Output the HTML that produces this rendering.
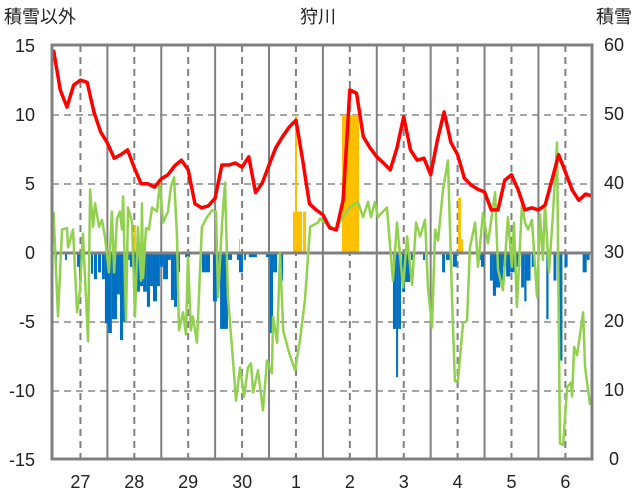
<!DOCTYPE html>
<html><head><meta charset="utf-8"><style>
html,body{margin:0;padding:0;background:#fff;}
svg{display:block;font-family:"Liberation Sans","Noto Sans CJK JP",sans-serif;}
</style></head><body>
<svg id="chart" width="636" height="501" viewBox="0 0 636 501"></svg>
<script>
const dayLabels = ["27","28","29","30","1","2","3","4","5","6"];
const leftTicks = [15,10,5,0,-5,-10,-15];
const rightTicks = [60,50,40,30,20,10,0];
// snow depth (right axis), every 3 hours
const snowDepth = [59.3,53.5,51.0,54.2,54.9,54.6,50.3,47.4,45.8,43.6,44.1,44.8,42.2,39.9,39.9,39.4,40.6,41.2,42.5,43.3,41.9,37.0,36.4,36.7,37.8,42.6,42.6,42.9,42.3,43.8,38.6,40.0,42.6,45.1,46.7,48.1,49.1,43.3,37.0,36.1,35.4,33.5,33.2,37.5,53.5,53.0,46.7,45.1,43.8,42.9,41.9,45.1,49.6,44.8,43.3,43.6,41.2,46.2,50.3,45.9,44.1,40.7,39.7,39.1,38.7,36.1,36.1,40.4,41.2,39.0,36.1,36.4,36.1,36.8,40.4,44.1,41.6,39.0,37.5,38.4,38.1];
// temperature (left axis)
const tempHours = [0,2,3.8,6,6.5,8.7,10.5,11.8,13.1,15.4,16.3,17.6,18.5,20.3,21.6,22.9,24.7,26,27,28.3,29.6,30.5,31,32.3,33.2,35,36.3,37.6,39,39.4,39.9,41.2,42.5,43.9,46.1,47.4,48.8,51,52.3,53.7,55,55.9,57.7,59,59.9,61.2,62.1,63.9,66.1,68.4,70.6,72.4,73.3,75.1,76.4,77.7,79.5,81.3,83.1,84.9,86.6,88,88.9,91.1,93.3,95.1,97.3,97.8,99.6,100.9,102.3,104.9,107.6,109.8,112,114.3,117.8,118.7,120.9,125.4,128.9,132,135.6,137.9,140.1,141.4,143.2,144.5,148.5,151.2,153,155.7,157.5,159.7,161.5,163.3,165.5,166.8,168.6,170,171.3,173.5,175.7,177.5,178.8,180.2,182.4,184.2,185.5,187.8,189.1,191.3,193.5,196.7,198,200.2,202.4,204.2,205.1,206.4,208.7,210,211.4,213.1,215.4,216.7,218,218.9,220.7,222.5,224.3,225.6,227,228.8,230.5,231,231.9,233.2,234.1,235.9,236.8,239];
const tempVals = [3.0,-4.6,1.7,1.8,0.4,1.7,-4.3,-2.7,1.4,-6.4,4.6,1.9,3.6,1.9,2.4,1.2,-1.4,3.0,-1.4,2.5,3.0,1.7,4.1,-4.9,3.3,2.2,-4.6,1.9,-2.0,3.6,-1.8,1.8,1.7,3.3,3.0,5.1,2.2,3.0,4.8,5.5,1.2,-5.6,-4.3,-5.9,-0.3,-5.6,-4.6,-6.5,1.9,2.6,3.1,3.0,-3.2,2.2,5.1,-3.2,-6.8,-10.7,-8.3,-10.4,-8.3,-8.0,-10.1,-8.5,-11.4,-7.8,-8.7,-4.6,-6.5,0,-5.6,-7.2,-8.5,-6.3,-3.4,1.9,2.2,2.5,2.2,1.7,2.6,3.3,3.7,2.6,3.7,2.6,3.7,2.6,3.3,-2.0,2.2,-2.5,1.2,-2.3,2.2,1.2,2.4,-2.5,-5.4,1.7,0.9,4.6,6.7,-3.2,-9.3,-9.2,-5.1,-4.9,0.4,2.2,-1.0,2.9,0.7,4.4,-1.2,-2.7,2.6,-1.0,2.2,-3.9,3.6,2.2,1.7,2.4,-3.2,2.8,-0.5,3.6,-1.4,2.9,8.0,-13.8,-13.9,-9.7,-9.4,-10.4,-6.8,-7.4,-6.4,-4.3,-8.3,-11.0];
// snow depth change bars (left axis): start hour, end hour, value
const dropStart = [0.7,5.1,10.5,11.4,16.7,18,19.8,21.6,22.9,24.3,26,28.3,29.6,31,32.3,34,35.4,37.2,38.5,39.9,41.6,43,44.3,46.1,47.4,48.8,51,52.3,53.7,55,58.6,66.1,67.9,71,72.8,74.2,77.7,81.7,82.6,84.9,87,94.6,96.4,97.8,100.9,151.2,152.6,153.5,155.2,156.6,159.2,164.6,173.1,174.8,177.9,189.1,190.4,194.4,195.7,197.1,198.9,200.2,201.6,203.4,206.1,208.3,209.7,210.7,213,219.5,222.7,225.3,227.6,235.7,237.5];
const dropEnd = [1.6,6,11.4,12.7,17.6,19.4,21.2,22.9,24.3,26,28.3,29.6,31,32.3,34,35.4,37.2,38.5,39.9,41.6,43,44.3,46.1,47.4,48.8,51,52.3,53.7,55,56.3,60.8,67.9,69.7,72.8,74.2,77.7,79.5,82.6,84.4,85.7,90.6,96.4,97.8,99.6,102.3,152.6,153.5,154.8,156.6,158.8,160.6,165.5,174.4,176.6,179.7,190.4,191.8,195.7,197.1,198.9,200.2,201.6,203.4,206.1,207.9,209.7,210.7,212.5,214.7,220.5,224,226.7,229,237.5,238.8];
const dropVals = [-1.0,-0.5,-1.0,-2.0,-1.5,-1.9,-1.4,-1.9,-5.1,-5.8,-4.8,-3.0,-6.3,-5.0,-0.5,-1.0,-2.0,-2.8,-2.4,-2.8,-3.9,-2.4,-3.5,-2.4,-1.0,-1.9,-0.5,-3.4,-3.9,-1.4,-0.3,-1.4,-1.4,-3.5,-2.4,-5.5,-0.5,-0.5,-1.4,-0.5,-0.3,-0.3,-5.8,-1.4,-2.0,-5.5,-9.0,-5.5,-2.8,-2.1,-0.5,-0.5,-1.4,-0.5,-1.0,-0.5,-1.0,-2.0,-3.1,-2.5,-2.0,-1.0,-1.7,-1.4,-1.0,-2.5,-3.5,-2.0,-1.0,-4.8,-2.0,-7.8,-1.0,-1.4,-0.5];
const gainStart = [35.9,82.6,106.7,107.6,111.1,128.5,180.2,181.5];
const gainEnd = [36.7,83.1,110.7,108.5,112.5,136.1,181.5,182.4];
const gainVals = [2.0,1.0,3.0,10,3.0,10,4.0,1.0];

const NS='http://www.w3.org/2000/svg';
const svg=document.getElementById('chart');
const L=52,R=592,T=45,B=459,X0=53.5,PXH=2.245;
const xH=h=>X0+h*PXH;
const yL=v=>253-v*13.8;
const yR=v=>B-v*6.9;
function mk(tag,attrs,parent){const e=document.createElementNS(NS,tag);for(const k in attrs)e.setAttribute(k,attrs[k]);(parent||svg).appendChild(e);return e;}

const grid=mk('g',{});


[10,5,-5,-10].forEach(v=>{const l=mk('line',{x1:L,x2:R,y1:yL(v),y2:yL(v),stroke:'#a6a6a6','stroke-width':2,'stroke-dasharray':'7,5'},grid);

});
for(let d=0;d<10;d++){
  if(d>0){const s=mk('line',{x1:xH(d*24),x2:xH(d*24),y1:T,y2:B,stroke:'#808080','stroke-width':2},grid);
  
  }
  const n=mk('line',{x1:xH(d*24+12),x2:xH(d*24+12),y1:T,y2:B,stroke:'#808080','stroke-width':2,'stroke-dasharray':'7,5'},grid);
  
  
  const t=mk('text',{x:xH(d*24+12),y:488,'font-size':18,'text-anchor':'middle',fill:'#222'});
  t.textContent=dayLabels[d];
  
  
}
dropVals.forEach((v,i)=>{const r=mk('rect',{x:xH(dropStart[i]),y:yL(0),width:Math.max(1,xH(dropEnd[i])-xH(dropStart[i])),height:yL(v)-yL(0),fill:'#0070c0'});

});
gainVals.forEach((v,i)=>{const r=mk('rect',{x:xH(gainStart[i]),y:yL(v),width:Math.max(1,xH(gainEnd[i])-xH(gainStart[i])),height:yL(0)-yL(v),fill:'#ffc000'});

});
const z=mk('line',{x1:L,x2:R,y1:yL(0),y2:yL(0),stroke:'#808080','stroke-width':3});


const tp=mk('polyline',{points:tempVals.map((v,i)=>xH(tempHours[i])+','+yL(v)).join(' '),fill:'none',stroke:'#92d050','stroke-width':2.5,'stroke-linejoin':'round'});


const sp=mk('polyline',{points:snowDepth.map((v,i)=>xH(i*3)+','+yR(v)).join(' '),fill:'none',stroke:'#ff0000','stroke-width':3.5,'stroke-linejoin':'round'});


const p=mk('line',{x1:L,x2:R,y1:B,y2:B,stroke:'#7030a0','stroke-width':3});


const f=mk('rect',{x:L,y:T,width:R-L,height:B-T,fill:'none',stroke:'#808080','stroke-width':3});


leftTicks.forEach(v=>{const t=mk('text',{x:35,y:yL(v)+6,'font-size':18,'text-anchor':'end',fill:'#222'});t.textContent=v;

});
rightTicks.forEach(v=>{const t=mk('text',{x:614,y:yR(v)+6,'font-size':18,'text-anchor':'middle',fill:'#222'});t.textContent=v;

});
const t1=mk('text',{x:4,y:23,'font-size':18,fill:'#222'});t1.textContent='積雪以外';


const t2=mk('text',{x:318,y:23,'font-size':18,'text-anchor':'middle',fill:'#222'});t2.textContent='狩川';


const t3=mk('text',{x:632,y:23,'font-size':18,'text-anchor':'end',fill:'#222'});t3.textContent='積雪';


</script>
</body></html>
